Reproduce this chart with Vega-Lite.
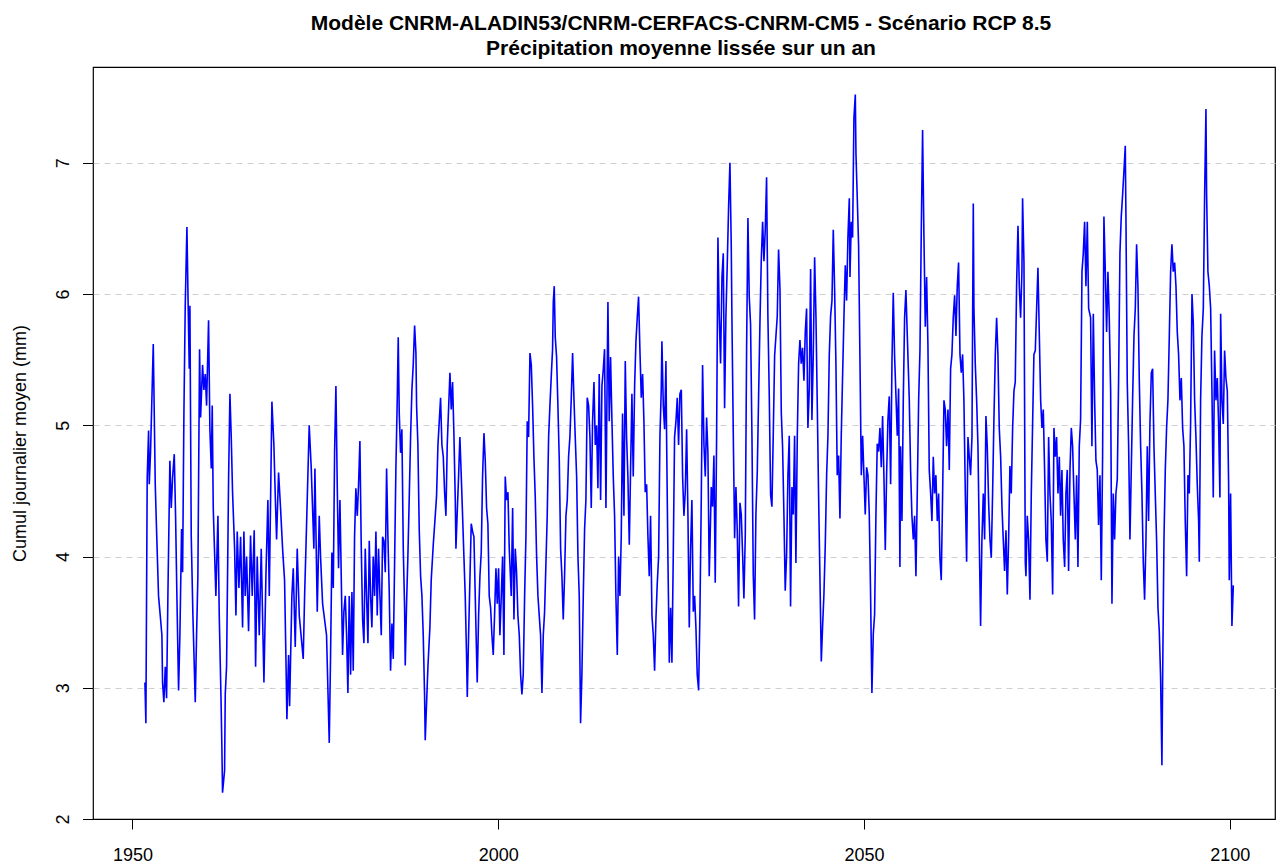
{
  "$schema": "https://vega.github.io/schema/vega-lite/v6.json",
  "width": 1182,
  "height": 752,
  "autosize": "none",
  "padding": {"left": 93, "top": 67, "right": 2, "bottom": 44},
  "background": "white",
  "config": {"view": {"stroke": "#000000", "strokeWidth": 1.2}, "font": "Liberation Sans"},
  "title": {
    "text": ["Modèle CNRM-ALADIN53/CNRM-CERFACS-CNRM-CM5 - Scénario RCP 8.5", "Précipitation moyenne lissée sur un an"],
    "font": "Liberation Sans", "fontSize": 21, "fontWeight": "bold", "color": "#000000",
    "anchor": "middle", "baseline": "alphabetic", "offset": 38.7, "lineHeight": 25, "dx": -3, "dy": 48
  },
  "data": {"values": [
{"year":1951.70,"value":3.04},{"year":1951.83,"value":2.73},{"year":1952.01,"value":4.6},{"year":1952.20,"value":4.96},{"year":1952.29,"value":4.55},{"year":1952.47,"value":4.8},{"year":1952.65,"value":5.2},{"year":1952.84,"value":5.62},{"year":1952.93,"value":5.27},{"year":1953.11,"value":4.55},{"year":1953.29,"value":4.2},{"year":1953.56,"value":3.7},{"year":1953.84,"value":3.52},{"year":1954.02,"value":3.4},{"year":1954.11,"value":3.04},{"year":1954.29,"value":2.89},{"year":1954.48,"value":3.16},{"year":1954.66,"value":2.92},{"year":1954.84,"value":3.7},{"year":1955.11,"value":4.73},{"year":1955.30,"value":4.37},{"year":1955.48,"value":4.6},{"year":1955.71,"value":4.78},{"year":1955.89,"value":4.31},{"year":1956.07,"value":3.7},{"year":1956.30,"value":2.98},{"year":1956.48,"value":3.4},{"year":1956.71,"value":4.21},{"year":1956.85,"value":3.88},{"year":1957.03,"value":5.09},{"year":1957.21,"value":5.91},{"year":1957.44,"value":6.51},{"year":1957.62,"value":5.88},{"year":1957.76,"value":5.43},{"year":1957.85,"value":5.91},{"year":1958.03,"value":4.16},{"year":1958.26,"value":3.55},{"year":1958.58,"value":2.89},{"year":1958.76,"value":3.4},{"year":1958.94,"value":3.85},{"year":1959.17,"value":5.58},{"year":1959.31,"value":5.06},{"year":1959.58,"value":5.46},{"year":1959.76,"value":5.27},{"year":1959.95,"value":5.39},{"year":1960.13,"value":5.15},{"year":1960.40,"value":5.8},{"year":1960.58,"value":4.97},{"year":1960.77,"value":4.67},{"year":1960.90,"value":5.15},{"year":1961.04,"value":4.37},{"year":1961.40,"value":3.7},{"year":1961.68,"value":4.31},{"year":1961.86,"value":3.55},{"year":1962.09,"value":2.95},{"year":1962.22,"value":2.55},{"year":1962.31,"value":2.2},{"year":1962.59,"value":2.37},{"year":1962.68,"value":2.95},{"year":1962.86,"value":3.16},{"year":1963.14,"value":4.6},{"year":1963.32,"value":5.24},{"year":1963.50,"value":4.91},{"year":1963.68,"value":4.49},{"year":1963.96,"value":4.06},{"year":1964.14,"value":3.55},{"year":1964.32,"value":4.19},{"year":1964.55,"value":3.76},{"year":1964.78,"value":4.15},{"year":1965.05,"value":3.46},{"year":1965.23,"value":4.19},{"year":1965.41,"value":3.7},{"year":1965.60,"value":4.0},{"year":1965.87,"value":3.43},{"year":1966.14,"value":4.16},{"year":1966.37,"value":3.7},{"year":1966.64,"value":4.2},{"year":1966.83,"value":3.16},{"year":1967.05,"value":4.0},{"year":1967.33,"value":3.4},{"year":1967.60,"value":4.06},{"year":1967.78,"value":3.55},{"year":1967.97,"value":3.04},{"year":1968.24,"value":3.85},{"year":1968.51,"value":4.43},{"year":1968.70,"value":3.7},{"year":1969.06,"value":5.18},{"year":1969.33,"value":4.85},{"year":1969.52,"value":4.46},{"year":1969.70,"value":4.13},{"year":1969.97,"value":4.64},{"year":1970.24,"value":4.37},{"year":1970.52,"value":4.06},{"year":1970.79,"value":3.82},{"year":1970.97,"value":3.25},{"year":1971.11,"value":2.76},{"year":1971.34,"value":3.25},{"year":1971.48,"value":2.86},{"year":1971.79,"value":3.7},{"year":1971.98,"value":3.91},{"year":1972.25,"value":3.31},{"year":1972.52,"value":4.06},{"year":1972.80,"value":3.55},{"year":1973.34,"value":3.22},{"year":1973.53,"value":3.7},{"year":1973.71,"value":4.06},{"year":1974.16,"value":5.0},{"year":1974.44,"value":4.67},{"year":1974.80,"value":4.06},{"year":1974.94,"value":4.67},{"year":1975.26,"value":3.58},{"year":1975.53,"value":4.31},{"year":1975.71,"value":4.0},{"year":1975.99,"value":3.64},{"year":1976.53,"value":3.4},{"year":1976.90,"value":2.58},
{"year":1977.08,"value":3.25},{"year":1977.26,"value":4.03},{"year":1977.45,"value":3.76},{"year":1977.63,"value":4.79},{"year":1977.81,"value":5.3},{"year":1977.99,"value":4.55},{"year":1978.17,"value":3.91},{"year":1978.36,"value":4.43},{"year":1978.54,"value":3.85},{"year":1978.72,"value":3.25},{"year":1978.90,"value":3.58},{"year":1979.09,"value":3.7},{"year":1979.27,"value":3.4},{"year":1979.45,"value":2.96},{"year":1979.63,"value":3.7},{"year":1979.82,"value":3.1},{"year":1980.00,"value":3.73},{"year":1980.18,"value":3.13},{"year":1980.36,"value":4.15},{"year":1980.54,"value":4.52},{"year":1980.73,"value":4.31},{"year":1980.91,"value":4.55},{"year":1981.09,"value":4.88},{"year":1981.27,"value":4.09},{"year":1981.46,"value":3.52},{"year":1981.64,"value":3.34},{"year":1981.82,"value":4.06},{"year":1982.00,"value":3.7},{"year":1982.19,"value":3.34},{"year":1982.37,"value":4.12},{"year":1982.55,"value":3.7},{"year":1982.73,"value":3.46},{"year":1982.91,"value":4.0},{"year":1983.10,"value":3.7},{"year":1983.28,"value":4.19},{"year":1983.46,"value":3.55},{"year":1983.64,"value":4.06},{"year":1983.83,"value":3.7},{"year":1984.01,"value":3.4},{"year":1984.19,"value":4.15},{"year":1984.37,"value":4.12},{"year":1984.56,"value":3.88},{"year":1984.74,"value":4.67},{"year":1984.92,"value":4.15},{"year":1985.10,"value":3.73},{"year":1985.28,"value":3.13},{"year":1985.47,"value":3.49},{"year":1985.65,"value":3.22},{"year":1985.83,"value":3.94},{"year":1986.01,"value":4.67},{"year":1986.20,"value":5.21},{"year":1986.33,"value":5.67},{"year":1986.47,"value":5.09},{"year":1986.65,"value":4.79},{"year":1986.83,"value":4.97},{"year":1987.02,"value":4.06},{"year":1987.20,"value":3.61},{"year":1987.29,"value":3.17},{"year":1987.47,"value":3.64},{"year":1987.65,"value":4.0},{"year":1987.84,"value":4.46},{"year":1988.02,"value":4.91},{"year":1988.20,"value":5.27},{"year":1988.38,"value":5.46},{"year":1988.57,"value":5.76},{"year":1988.75,"value":5.55},{"year":1988.84,"value":5.15},{"year":1989.02,"value":4.85},{"year":1989.20,"value":4.21},{"year":1989.39,"value":3.85},{"year":1989.57,"value":3.7},{"year":1989.75,"value":3.4},{"year":1989.93,"value":2.95},{"year":1990.02,"value":2.6},{"year":1990.21,"value":2.89},{"year":1990.39,"value":3.16},{"year":1990.66,"value":3.46},{"year":1990.84,"value":3.82},{"year":1991.12,"value":4.09},{"year":1991.39,"value":4.31},{"year":1991.57,"value":4.46},{"year":1991.76,"value":4.85},{"year":1991.94,"value":5.03},{"year":1992.12,"value":5.21},{"year":1992.30,"value":4.85},{"year":1992.49,"value":4.76},{"year":1992.67,"value":4.49},{"year":1992.85,"value":4.31},{"year":1993.03,"value":4.85},{"year":1993.21,"value":5.12},{"year":1993.40,"value":5.4},{"year":1993.58,"value":5.12},{"year":1993.76,"value":5.33},{"year":1993.94,"value":4.94},{"year":1994.13,"value":4.43},{"year":1994.22,"value":4.06},{"year":1994.40,"value":4.34},{"year":1994.58,"value":4.61},{"year":1994.76,"value":4.91},{"year":1994.95,"value":4.61},{"year":1995.13,"value":4.31},{"year":1995.31,"value":4.0},{"year":1995.49,"value":3.7},{"year":1995.68,"value":3.22},{"year":1995.77,"value":2.93},{"year":1995.95,"value":3.4},{"year":1996.13,"value":3.82},{"year":1996.31,"value":4.25},{"year":1996.50,"value":4.19},{"year":1996.68,"value":4.15},{"year":1996.86,"value":3.7},{"year":1997.04,"value":3.25},{"year":1997.13,"value":3.04},{"year":1997.32,"value":3.55},{"year":1997.50,"value":3.85},{"year":1997.68,"value":4.03},{"year":1997.86,"value":4.61},{"year":1998.05,"value":4.94},{"year":1998.23,"value":4.73},{"year":1998.41,"value":4.37},{"year":1998.59,"value":4.25},{"year":1998.77,"value":3.7},{"year":1998.96,"value":3.61},{"year":1999.14,"value":3.4},{"year":1999.32,"value":3.25},{"year":1999.50,"value":3.55},{"year":1999.69,"value":3.91},{"year":1999.87,"value":3.64},{"year":2000.05,"value":3.91},{"year":2000.23,"value":3.4},{"year":2000.42,"value":3.7},{"year":2000.60,"value":4.0},{"year":2000.78,"value":3.25},{"year":2000.96,"value":4.61},{"year":2001.14,"value":4.43},{"year":2001.33,"value":4.49},{"year":2001.51,"value":4.06},
{"year":2001.78,"value":3.7},{"year":2001.97,"value":4.37},{"year":2002.15,"value":3.52},{"year":2002.33,"value":4.06},{"year":2002.51,"value":3.88},{"year":2002.69,"value":3.55},{"year":2002.88,"value":3.4},{"year":2003.06,"value":3.1},{"year":2003.24,"value":2.95},{"year":2003.42,"value":3.1},{"year":2003.61,"value":3.7},{"year":2003.79,"value":4.15},{"year":2003.97,"value":5.03},{"year":2004.15,"value":4.91},{"year":2004.34,"value":5.55},{"year":2004.52,"value":5.46},{"year":2004.70,"value":5.15},{"year":2004.88,"value":4.76},{"year":2005.06,"value":4.46},{"year":2005.25,"value":4.0},{"year":2005.43,"value":3.7},{"year":2005.61,"value":3.55},{"year":2005.79,"value":3.4},{"year":2005.98,"value":2.96},{"year":2006.16,"value":3.4},{"year":2006.34,"value":3.58},{"year":2006.52,"value":3.94},{"year":2006.70,"value":4.31},{"year":2006.89,"value":4.91},{"year":2007.07,"value":5.15},{"year":2007.25,"value":5.37},{"year":2007.43,"value":5.58},{"year":2007.53,"value":5.94},{"year":2007.66,"value":6.06},{"year":2007.80,"value":5.67},{"year":2007.98,"value":5.52},{"year":2008.16,"value":5.15},{"year":2008.35,"value":4.73},{"year":2008.53,"value":4.06},{"year":2008.71,"value":3.85},{"year":2008.89,"value":3.52},{"year":2009.07,"value":3.85},{"year":2009.26,"value":4.31},{"year":2009.44,"value":4.43},{"year":2009.62,"value":4.76},{"year":2009.80,"value":4.91},{"year":2009.99,"value":5.21},{"year":2010.17,"value":5.55},{"year":2010.35,"value":5.21},{"year":2010.53,"value":4.91},{"year":2010.72,"value":4.61},{"year":2010.90,"value":4.0},{"year":2011.08,"value":3.7},{"year":2011.26,"value":2.73},{"year":2011.44,"value":3.1},{"year":2011.63,"value":3.7},{"year":2011.81,"value":4.21},{"year":2011.99,"value":4.43},{"year":2012.17,"value":5.21},{"year":2012.36,"value":5.15},{"year":2012.54,"value":4.91},{"year":2012.72,"value":4.37},{"year":2012.90,"value":5.03},{"year":2013.09,"value":5.33},{"year":2013.27,"value":4.85},{"year":2013.45,"value":5.0},{"year":2013.63,"value":4.52},{"year":2013.81,"value":5.39},{"year":2014.00,"value":4.43},{"year":2014.18,"value":5.3},{"year":2014.36,"value":5.42},{"year":2014.54,"value":5.58},{"year":2014.73,"value":4.37},{"year":2014.91,"value":5.46},{"year":2015.00,"value":5.94},{"year":2015.18,"value":5.03},{"year":2015.36,"value":5.52},{"year":2015.55,"value":5.03},{"year":2015.73,"value":4.61},{"year":2015.91,"value":4.31},{"year":2016.09,"value":3.7},{"year":2016.28,"value":3.25},{"year":2016.46,"value":4.0},{"year":2016.64,"value":3.7},{"year":2016.82,"value":4.15},{"year":2017.00,"value":5.09},{"year":2017.19,"value":4.31},{"year":2017.37,"value":5.49},{"year":2017.55,"value":4.91},{"year":2017.73,"value":4.61},{"year":2017.92,"value":4.09},{"year":2018.10,"value":4.67},{"year":2018.28,"value":5.24},{"year":2018.46,"value":4.61},{"year":2018.65,"value":5.3},{"year":2018.83,"value":5.64},{"year":2019.01,"value":5.82},{"year":2019.19,"value":5.98},{"year":2019.37,"value":5.58},{"year":2019.56,"value":5.21},{"year":2019.74,"value":5.39},{"year":2019.92,"value":5.03},{"year":2020.10,"value":4.49},{"year":2020.29,"value":4.55},{"year":2020.47,"value":4.15},{"year":2020.65,"value":3.85},{"year":2020.83,"value":4.31},{"year":2021.02,"value":3.55},{"year":2021.20,"value":3.4},{"year":2021.38,"value":3.13},{"year":2021.56,"value":3.52},{"year":2021.74,"value":3.79},{"year":2021.93,"value":4.0},{"year":2022.11,"value":4.91},{"year":2022.29,"value":5.27},{"year":2022.38,"value":5.64},{"year":2022.57,"value":5.15},{"year":2022.75,"value":4.97},{"year":2022.93,"value":5.49},{"year":2023.02,"value":4.91},{"year":2023.20,"value":4.0},{"year":2023.39,"value":3.19},{"year":2023.57,"value":3.61},{"year":2023.75,"value":3.19},{"year":2023.93,"value":4.0},{"year":2024.11,"value":4.91},{"year":2024.30,"value":5.03},{"year":2024.48,"value":5.21},{"year":2024.66,"value":4.85},{"year":2024.84,"value":5.24},{"year":2025.03,"value":5.27},{"year":2025.21,"value":4.61},{"year":2025.39,"value":4.31},{"year":2025.57,"value":4.49},{"year":2025.76,"value":4.97},{"year":2025.94,"value":4.31},{"year":2026.12,"value":3.46},{"year":2026.30,"value":4.06},{"year":2026.48,"value":4.43},{"year":2026.67,"value":3.58},{"year":2026.85,"value":3.7},{"year":2027.03,"value":3.46},{"year":2027.21,"value":3.1},{"year":2027.40,"value":2.98},{"year":2027.58,"value":3.58},{"year":2027.76,"value":4.43},{"year":2027.94,"value":5.46},{"year":2028.13,"value":4.85},{"year":2028.31,"value":4.61},{"year":2028.49,"value":5.06},{"year":2028.67,"value":4.79},{"year":2028.85,"value":3.85},
{"year":2029.13,"value":4.53},{"year":2029.31,"value":4.38},{"year":2029.49,"value":4.77},{"year":2029.67,"value":3.8},{"year":2029.86,"value":4.92},{"year":2030.04,"value":6.43},{"year":2030.22,"value":5.83},{"year":2030.40,"value":5.47},{"year":2030.59,"value":6.13},{"year":2030.77,"value":6.31},{"year":2030.95,"value":5.13},{"year":2031.13,"value":5.83},{"year":2031.31,"value":6.22},{"year":2031.50,"value":6.67},{"year":2031.68,"value":7.0},{"year":2031.86,"value":6.37},{"year":2031.95,"value":5.83},{"year":2032.14,"value":4.92},{"year":2032.32,"value":4.14},{"year":2032.50,"value":4.53},{"year":2032.68,"value":4.2},{"year":2032.86,"value":3.62},{"year":2033.05,"value":4.41},{"year":2033.23,"value":4.32},{"year":2033.41,"value":4.02},{"year":2033.59,"value":3.68},{"year":2033.78,"value":4.17},{"year":2033.96,"value":5.59},{"year":2034.14,"value":6.58},{"year":2034.32,"value":5.98},{"year":2034.50,"value":5.77},{"year":2034.69,"value":4.92},{"year":2034.87,"value":3.86},{"year":2035.05,"value":3.52},{"year":2035.23,"value":4.32},{"year":2035.42,"value":4.65},{"year":2035.60,"value":5.22},{"year":2035.78,"value":5.77},{"year":2035.96,"value":6.25},{"year":2036.15,"value":6.55},{"year":2036.33,"value":6.25},{"year":2036.51,"value":6.49},{"year":2036.69,"value":6.89},{"year":2036.87,"value":5.83},{"year":2037.06,"value":5.22},{"year":2037.24,"value":4.47},{"year":2037.42,"value":4.38},{"year":2037.60,"value":4.92},{"year":2037.79,"value":5.53},{"year":2037.97,"value":5.68},{"year":2038.15,"value":5.83},{"year":2038.33,"value":6.34},{"year":2038.52,"value":6.04},{"year":2038.70,"value":5.1},{"year":2038.88,"value":4.83},{"year":2039.06,"value":4.32},{"year":2039.24,"value":3.74},{"year":2039.43,"value":4.02},{"year":2039.61,"value":4.62},{"year":2039.79,"value":4.92},{"year":2039.97,"value":3.62},{"year":2040.16,"value":4.53},{"year":2040.34,"value":4.32},{"year":2040.52,"value":4.92},{"year":2040.70,"value":3.95},{"year":2040.89,"value":4.92},{"year":2041.07,"value":5.47},{"year":2041.25,"value":5.65},{"year":2041.43,"value":5.47},{"year":2041.61,"value":5.59},{"year":2041.80,"value":5.34},{"year":2041.98,"value":5.71},{"year":2042.16,"value":5.89},{"year":2042.34,"value":4.98},{"year":2042.53,"value":5.28},{"year":2042.71,"value":6.19},{"year":2042.89,"value":5.04},{"year":2043.07,"value":5.53},{"year":2043.26,"value":6.28},{"year":2043.44,"value":5.83},{"year":2043.62,"value":5.16},{"year":2043.80,"value":4.47},{"year":2043.98,"value":3.86},{"year":2044.17,"value":3.2},{"year":2044.35,"value":3.47},{"year":2044.53,"value":3.71},{"year":2044.71,"value":4.08},{"year":2044.90,"value":4.62},{"year":2045.08,"value":4.92},{"year":2045.26,"value":5.53},{"year":2045.44,"value":5.83},{"year":2045.63,"value":5.95},{"year":2045.81,"value":6.49},{"year":2045.99,"value":6.04},{"year":2046.17,"value":5.47},{"year":2046.35,"value":4.62},{"year":2046.54,"value":4.77},{"year":2046.72,"value":4.29},{"year":2046.90,"value":4.92},{"year":2047.08,"value":5.37},{"year":2047.27,"value":5.83},{"year":2047.45,"value":6.22},{"year":2047.63,"value":5.95},{"year":2047.81,"value":6.43},{"year":2048.00,"value":6.73},{"year":2048.09,"value":6.13},{"year":2048.27,"value":6.55},{"year":2048.45,"value":6.43},{"year":2048.63,"value":7.34},{"year":2048.82,"value":7.52},{"year":2048.91,"value":7.07},{"year":2049.09,"value":6.73},{"year":2049.27,"value":6.37},{"year":2049.45,"value":5.53},{"year":2049.64,"value":4.62},{"year":2049.82,"value":4.92},{"year":2050.00,"value":4.62},{"year":2050.18,"value":4.32},{"year":2050.37,"value":4.68},{"year":2050.55,"value":4.62},{"year":2050.73,"value":4.32},{"year":2050.91,"value":3.71},{"year":2051.09,"value":2.96},{"year":2051.28,"value":3.41},{"year":2051.46,"value":3.56},{"year":2051.64,"value":4.32},{"year":2051.82,"value":4.86},{"year":2052.01,"value":4.8},{"year":2052.19,"value":4.98},{"year":2052.37,"value":4.68},{"year":2052.55,"value":5.07},{"year":2052.73,"value":4.62},{"year":2052.92,"value":4.05},{"year":2053.10,"value":4.62},{"year":2053.28,"value":5.04},{"year":2053.46,"value":5.22},{"year":2053.65,"value":4.55},{"year":2053.83,"value":5.47},{"year":2054.01,"value":6.01},{"year":2054.19,"value":5.53},{"year":2054.38,"value":5.22},{"year":2054.56,"value":4.92},{"year":2054.74,"value":5.28},{"year":2054.92,"value":3.92},
{"year":2055.01,"value":4.84},{"year":2055.20,"value":4.27},{"year":2055.38,"value":5.19},{"year":2055.56,"value":5.82},{"year":2055.74,"value":6.03},{"year":2055.93,"value":5.68},{"year":2056.11,"value":5.36},{"year":2056.20,"value":5.19},{"year":2056.38,"value":4.66},{"year":2056.56,"value":4.31},{"year":2056.75,"value":4.13},{"year":2056.93,"value":4.31},{"year":2057.11,"value":3.85},{"year":2057.29,"value":4.48},{"year":2057.48,"value":5.19},{"year":2057.66,"value":5.57},{"year":2057.84,"value":6.48},{"year":2058.02,"value":7.25},{"year":2058.20,"value":6.45},{"year":2058.39,"value":5.75},{"year":2058.57,"value":6.13},{"year":2058.75,"value":5.61},{"year":2058.93,"value":4.66},{"year":2059.12,"value":4.48},{"year":2059.30,"value":4.27},{"year":2059.48,"value":4.76},{"year":2059.66,"value":4.48},{"year":2059.84,"value":4.62},{"year":2060.03,"value":4.27},{"year":2060.21,"value":4.48},{"year":2060.39,"value":3.99},{"year":2060.57,"value":3.82},{"year":2060.76,"value":4.48},{"year":2060.94,"value":5.19},{"year":2061.12,"value":5.12},{"year":2061.30,"value":4.84},{"year":2061.49,"value":5.12},{"year":2061.67,"value":4.66},{"year":2061.85,"value":5.43},{"year":2062.03,"value":5.54},{"year":2062.21,"value":5.82},{"year":2062.40,"value":5.99},{"year":2062.58,"value":5.68},{"year":2062.76,"value":6.06},{"year":2062.94,"value":6.24},{"year":2063.13,"value":5.54},{"year":2063.31,"value":5.4},{"year":2063.49,"value":5.54},{"year":2063.67,"value":5.19},{"year":2063.86,"value":4.48},{"year":2064.04,"value":3.96},{"year":2064.22,"value":4.91},{"year":2064.40,"value":4.76},{"year":2064.58,"value":4.62},{"year":2064.77,"value":4.91},{"year":2064.95,"value":6.69},{"year":2065.04,"value":5.89},{"year":2065.22,"value":5.47},{"year":2065.41,"value":5.19},{"year":2065.59,"value":4.84},{"year":2065.77,"value":4.13},{"year":2065.95,"value":3.47},{"year":2066.13,"value":4.13},{"year":2066.32,"value":4.48},{"year":2066.50,"value":4.13},{"year":2066.68,"value":5.07},{"year":2066.86,"value":4.84},{"year":2067.05,"value":4.41},{"year":2067.23,"value":4.13},{"year":2067.41,"value":3.99},{"year":2067.59,"value":4.48},{"year":2067.77,"value":5.04},{"year":2067.96,"value":5.54},{"year":2068.14,"value":5.82},{"year":2068.32,"value":5.54},{"year":2068.50,"value":4.98},{"year":2068.69,"value":4.76},{"year":2068.87,"value":4.38},{"year":2069.05,"value":4.13},{"year":2069.23,"value":3.89},{"year":2069.42,"value":4.2},{"year":2069.60,"value":3.71},{"year":2069.78,"value":4.13},{"year":2069.96,"value":4.69},{"year":2070.14,"value":4.48},{"year":2070.33,"value":4.98},{"year":2070.51,"value":5.26},{"year":2070.69,"value":5.33},{"year":2070.87,"value":6.06},{"year":2071.06,"value":6.52},{"year":2071.24,"value":6.06},{"year":2071.42,"value":5.82},{"year":2071.60,"value":6.17},{"year":2071.69,"value":6.73},{"year":2071.88,"value":6.24},{"year":2072.06,"value":3.96},{"year":2072.15,"value":3.85},{"year":2072.33,"value":4.31},{"year":2072.51,"value":4.13},{"year":2072.70,"value":3.67},{"year":2072.88,"value":4.48},{"year":2073.06,"value":5.01},{"year":2073.24,"value":5.54},{"year":2073.43,"value":5.57},{"year":2073.61,"value":5.89},{"year":2073.79,"value":6.2},{"year":2073.97,"value":5.71},{"year":2074.16,"value":5.19},{"year":2074.34,"value":4.98},{"year":2074.52,"value":5.12},{"year":2074.70,"value":4.66},{"year":2074.88,"value":4.13},{"year":2075.07,"value":3.96},{"year":2075.25,"value":4.91},{"year":2075.43,"value":4.48},{"year":2075.61,"value":4.27},{"year":2075.80,"value":3.71},{"year":2075.98,"value":4.98},{"year":2076.16,"value":4.76},{"year":2076.34,"value":4.91},{"year":2076.53,"value":4.48},{"year":2076.71,"value":4.76},{"year":2076.89,"value":4.31},{"year":2077.07,"value":4.66},{"year":2077.25,"value":4.13},{"year":2077.44,"value":3.92},{"year":2077.62,"value":4.48},{"year":2077.80,"value":4.66},{"year":2077.98,"value":3.89},{"year":2078.17,"value":4.66},{"year":2078.35,"value":4.98},{"year":2078.53,"value":4.84},{"year":2078.71,"value":4.48},{"year":2078.90,"value":4.13},{"year":2079.08,"value":4.62},{"year":2079.26,"value":3.92},{"year":2079.44,"value":4.84},{"year":2079.62,"value":5.04},{"year":2079.81,"value":6.17},{"year":2079.99,"value":6.31},{"year":2080.17,"value":6.55},{"year":2080.35,"value":6.06},{"year":2080.54,"value":6.55},{"year":2080.72,"value":5.89},
{"year":2080.99,"value":5.82},{"year":2081.17,"value":4.84},{"year":2081.36,"value":5.85},{"year":2081.54,"value":5.19},{"year":2081.72,"value":4.73},{"year":2081.90,"value":4.66},{"year":2082.08,"value":4.24},{"year":2082.27,"value":4.62},{"year":2082.45,"value":3.82},{"year":2082.63,"value":4.76},{"year":2082.81,"value":6.59},{"year":2083.00,"value":6.17},{"year":2083.18,"value":5.71},{"year":2083.36,"value":6.17},{"year":2083.54,"value":5.82},{"year":2083.73,"value":5.26},{"year":2083.91,"value":3.64},{"year":2084.09,"value":4.48},{"year":2084.27,"value":4.13},{"year":2084.45,"value":4.48},{"year":2084.64,"value":4.59},{"year":2084.82,"value":5.36},{"year":2085.00,"value":6.31},{"year":2085.18,"value":6.59},{"year":2085.37,"value":6.76},{"year":2085.55,"value":6.94},{"year":2085.73,"value":7.13},{"year":2085.82,"value":6.59},{"year":2086.00,"value":5.33},{"year":2086.19,"value":4.84},{"year":2086.37,"value":4.13},{"year":2086.55,"value":4.66},{"year":2086.73,"value":5.19},{"year":2086.92,"value":5.68},{"year":2087.10,"value":5.89},{"year":2087.28,"value":6.38},{"year":2087.46,"value":6.06},{"year":2087.64,"value":5.36},{"year":2087.83,"value":4.84},{"year":2088.01,"value":4.48},{"year":2088.19,"value":3.96},{"year":2088.37,"value":3.67},{"year":2088.56,"value":4.13},{"year":2088.74,"value":4.84},{"year":2088.92,"value":4.27},{"year":2089.10,"value":5.01},{"year":2089.29,"value":5.4},{"year":2089.47,"value":5.43},{"year":2089.65,"value":4.84},{"year":2089.83,"value":4.48},{"year":2090.01,"value":4.13},{"year":2090.20,"value":3.61},{"year":2090.38,"value":3.43},{"year":2090.56,"value":3.08},{"year":2090.74,"value":2.41},{"year":2090.84,"value":3.08},{"year":2091.02,"value":4.13},{"year":2091.20,"value":4.66},{"year":2091.38,"value":4.98},{"year":2091.56,"value":5.19},{"year":2091.75,"value":5.68},{"year":2091.93,"value":6.17},{"year":2092.11,"value":6.38},{"year":2092.29,"value":6.17},{"year":2092.48,"value":6.24},{"year":2092.66,"value":6.06},{"year":2092.84,"value":5.71},{"year":2093.02,"value":5.54},{"year":2093.21,"value":5.19},{"year":2093.39,"value":5.36},{"year":2093.57,"value":4.98},{"year":2093.75,"value":4.84},{"year":2093.93,"value":4.27},{"year":2094.12,"value":3.85},{"year":2094.30,"value":4.62},{"year":2094.48,"value":4.48},{"year":2094.66,"value":5.01},{"year":2094.85,"value":6.0},{"year":2095.03,"value":5.78},{"year":2095.21,"value":5.19},{"year":2095.39,"value":4.91},{"year":2095.57,"value":4.55},{"year":2095.76,"value":4.27},{"year":2095.85,"value":3.96},{"year":2096.03,"value":5.19},{"year":2096.21,"value":5.68},{"year":2096.40,"value":5.89},{"year":2096.58,"value":6.76},{"year":2096.76,"value":7.41},{"year":2096.85,"value":6.76},{"year":2097.03,"value":6.17},{"year":2097.22,"value":6.06},{"year":2097.40,"value":5.89},{"year":2097.58,"value":5.26},{"year":2097.76,"value":4.45},{"year":2097.94,"value":5.57},{"year":2098.13,"value":5.19},{"year":2098.31,"value":5.36},{"year":2098.49,"value":5.01},{"year":2098.67,"value":4.45},{"year":2098.77,"value":5.85},{"year":2098.95,"value":5.19},{"year":2099.13,"value":5.01},{"year":2099.31,"value":5.57},{"year":2099.49,"value":5.36},{"year":2099.68,"value":5.26},{"year":2099.86,"value":4.55},{"year":2099.95,"value":3.82},{"year":2100.13,"value":4.48},{"year":2100.31,"value":3.47},{"year":2100.50,"value":3.78}
  ]},
  "mark": {"type": "line", "color": "#0000ff", "strokeWidth": 1.6, "clip": true},
  "encoding": {
    "x": {
      "field": "year", "type": "quantitative",
      "scale": {"domain": [1944.6, 2106.2], "nice": false, "zero": false},
      "axis": {
        "title": null, "values": [1950, 2000, 2050, 2100], "format": "d",
        "grid": false, "domain": false,
        "ticks": true, "tickSize": 10, "tickColor": "#000000", "tickWidth": 1,
        "labelFont": "Liberation Sans", "labelFontSize": 18, "labelColor": "#000000",
        "labelBaseline": "alphabetic", "labelPadding": 31, "labelAlign": "center"
      }
    },
    "y": {
      "field": "value", "type": "quantitative",
      "scale": {"domain": [2.0, 7.73], "nice": false, "zero": false},
      "axis": {
        "values": [2, 3, 4, 5, 6, 7],
        "grid": true, "gridDash": [6, 5], "gridColor": "#cfcfcf", "gridWidth": 1,
        "gridOpacity": {"condition": {"test": "datum.value <= 2", "value": 0}, "value": 1},
        "domain": false,
        "ticks": true, "tickSize": 10.5, "tickColor": "#000000", "tickWidth": 1,
        "labelFont": "Liberation Sans", "labelFontSize": 18, "labelColor": "#000000",
        "labelAngle": -90, "labelAlign": "center", "labelBaseline": "alphabetic", "labelPadding": 14,
        "title": "Cumul journalier moyen (mm)",
        "titleFont": "Liberation Sans", "titleFontSize": 18, "titleFontWeight": "normal", "titleColor": "#000000",
        "titleAngle": -90, "titleAlign": "center", "titleBaseline": "alphabetic",
        "titleX": -68, "titleY": 376
      }
    }
  }
}
